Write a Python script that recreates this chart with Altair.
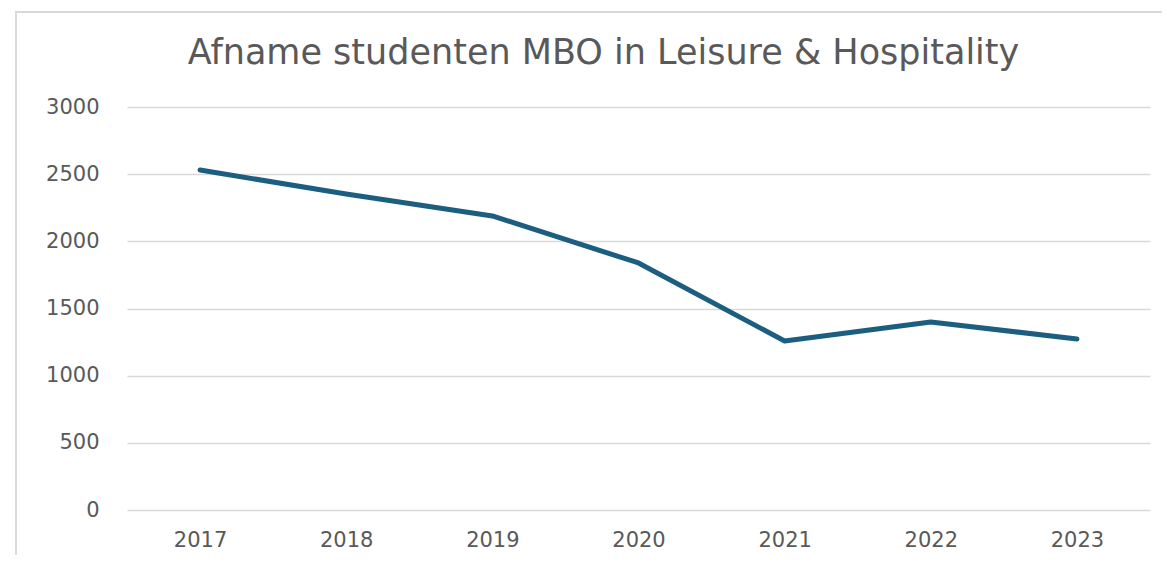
import altair as alt
import pandas as pd

years = ["2017", "2018", "2019", "2020", "2021", "2022", "2023"]
students = [2531, 2352, 2189, 1839, 1258, 1400, 1273]
title_text = ["Afname studenten MBO in Leisure & Hospitality"]

df = pd.DataFrame({"jaar": years, "studenten": students})

W, H = 1023, 403
FONT = "DejaVu Sans"
GREY = "#595959"

frame = alt.Chart(pd.DataFrame({"k": [0]})).mark_rect(
    fill="transparent", stroke="#d9d9d9", strokeWidth=2
).encode(
    x=alt.value(-111), x2=alt.value(W + 300),
    y=alt.value(-95), y2=alt.value(H + 300),
)

title = alt.Chart(pd.DataFrame({"t": title_text})).mark_text(
    fontSize=35, font=FONT, color=GREY, align="center", baseline="alphabetic"
).encode(text="t:N", x=alt.value(W / 2 - 35), y=alt.value(-43))

line = alt.Chart(df).mark_line(
    color="#1b5e80", strokeWidth=5, strokeCap="round", strokeJoin="round"
).encode(
    x=alt.X("jaar:O", sort=years, title=None,
            scale=alt.Scale(paddingInner=0, paddingOuter=0, align=0.5),
            axis=alt.Axis(labelAngle=0, ticks=False, domain=False, grid=False,
                          labelFontSize=21, labelColor=GREY, labelFont=FONT,
                          labelPadding=19)),
    y=alt.Y("studenten:Q", title=None,
            scale=alt.Scale(domain=[0, 3000], nice=False),
            axis=alt.Axis(values=[0, 500, 1000, 1500, 2000, 2500, 3000],
                          format="d",
                          ticks=False, domain=False, grid=True,
                          gridColor="#d9d9d9", gridWidth=1.6,
                          labelFontSize=21, labelColor=GREY, labelFont=FONT,
                          labelPadding=28)),
)

chart = alt.layer(frame, title, line).properties(
    width=W, height=H,
    autosize=alt.AutoSizeParams(type="none"),
    padding={"left": 119, "top": 99, "right": 12, "bottom": 45},
    background="white",
).configure_view(strokeWidth=0, stroke=None)

chart.save("out.html", embed_options={"renderer": "svg", "actions": False})
